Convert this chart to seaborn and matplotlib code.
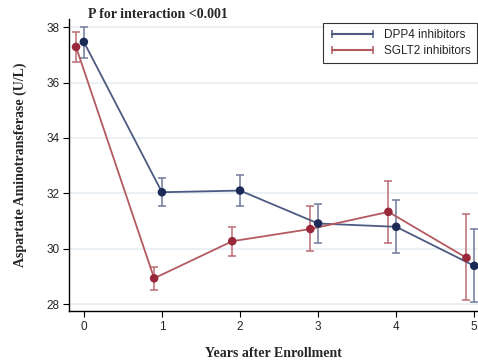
import numpy as np
import pandas as pd
import seaborn as sns
import matplotlib.pyplot as plt
from matplotlib.lines import Line2D

years = [0, 1, 2, 3, 4, 5]
groups = ['DPP4 inhibitors', 'SGLT2 inhibitors']

dpp4_mean = [37.47, 32.04, 32.10, 30.91, 30.79, 29.38]
dpp4_low = [36.89, 31.55, 31.55, 30.21, 29.83, 28.08]
dpp4_high = [38.01, 32.55, 32.65, 31.60, 31.76, 30.70]

sglt2_mean = [37.29, 28.93, 30.27, 30.71, 31.33, 29.67]
sglt2_low = [36.74, 28.51, 29.74, 29.93, 30.21, 28.14]
sglt2_high = [37.84, 29.35, 30.79, 31.53, 32.45, 31.24]

# small dodge so the bars do not overlap
shift = {'DPP4 inhibitors': 0.0, 'SGLT2 inhibitors': -0.1}

rows = []
for g, m, lo, hi in [(groups[0], dpp4_mean, dpp4_low, dpp4_high),
                     (groups[1], sglt2_mean, sglt2_low, sglt2_high)]:
    for i in range(len(years)):
        rows.append({'group': g, 'year': years[i] + shift[g],
                     'mean': m[i], 'low': lo[i], 'high': hi[i]})
df = pd.DataFrame(rows)

line_col = {'DPP4 inhibitors': '#4d5b82', 'SGLT2 inhibitors': '#b35a61'}
dot_col = {'DPP4 inhibitors': '#1b2a57', 'SGLT2 inhibitors': '#98283a'}
err_col = {'DPP4 inhibitors': '#6f7b9a', 'SGLT2 inhibitors': '#bb6b72'}

sns.set_style('white')
plt.rcParams['font.family'] = ['Liberation Sans', 'DejaVu Sans']

fig = plt.figure(figsize=(4.78, 3.62), dpi=100)
ax = fig.add_axes([0.1444, 0.141, 0.856, 0.8066])

for g in groups:
    sub = df[df['group'] == g]
    ax.errorbar(sub['year'], sub['mean'],
                yerr=[sub['mean'] - sub['low'], sub['high'] - sub['mean']],
                fmt='none', ecolor=err_col[g], elinewidth=1.1, capsize=3, capthick=1.1, zorder=2)

sns.lineplot(data=df, x='year', y='mean', hue='group', palette=line_col,
             linewidth=1.3, legend=False, ax=ax, zorder=3, sort=False)
sns.scatterplot(data=df, x='year', y='mean', hue='group', palette=dot_col,
                s=38, linewidth=0, legend=False, ax=ax, zorder=4)

ax.set_xlim(-0.19, 5.05)
ax.set_ylim(27.75, 38.3)
ax.set_xticks(years)
ax.set_yticks([28, 30, 32, 34, 36, 38])
ax.yaxis.grid(True, color='#e6edf1', linewidth=1.2)
ax.set_axisbelow(True)
for s in ['top', 'right']:
    ax.spines[s].set_visible(False)
for s in ['left', 'bottom']:
    ax.spines[s].set_color('black')
    ax.spines[s].set_linewidth(1.0)
ax.tick_params(axis='both', direction='out', length=4, width=0.8, color='black',
               labelsize=8.5, pad=3, bottom=True, left=True)

ax.set_xlabel('Years after Enrollment', family='Liberation Serif', fontweight='bold',
              fontsize=10, labelpad=10)
ax.set_ylabel('Aspartate Aminotransferase (U/L)', family='Liberation Serif',
              fontweight='bold', fontsize=10, labelpad=14)
ax.text(0.05, 38.45, 'P for interaction <0.001', family='Liberation Serif',
        fontweight='bold', fontsize=10, ha='left', va='center')

handles = [Line2D([0, 1], [0, 0], color=line_col[g], marker='|', markersize=6,
                  markeredgewidth=1.1, linewidth=1.5) for g in groups]
leg = ax.legend(handles, groups, loc='upper right', bbox_to_anchor=(1.0, 0.99),
                numpoints=2, fontsize=8.5, frameon=True, fancybox=False,
                handlelength=4.0, borderpad=0.5, labelspacing=0.35, handletextpad=0.7,
                borderaxespad=0.1)
leg.get_frame().set_edgecolor('black')
leg.get_frame().set_linewidth(0.8)

fig.savefig('out.png', dpi=100)
